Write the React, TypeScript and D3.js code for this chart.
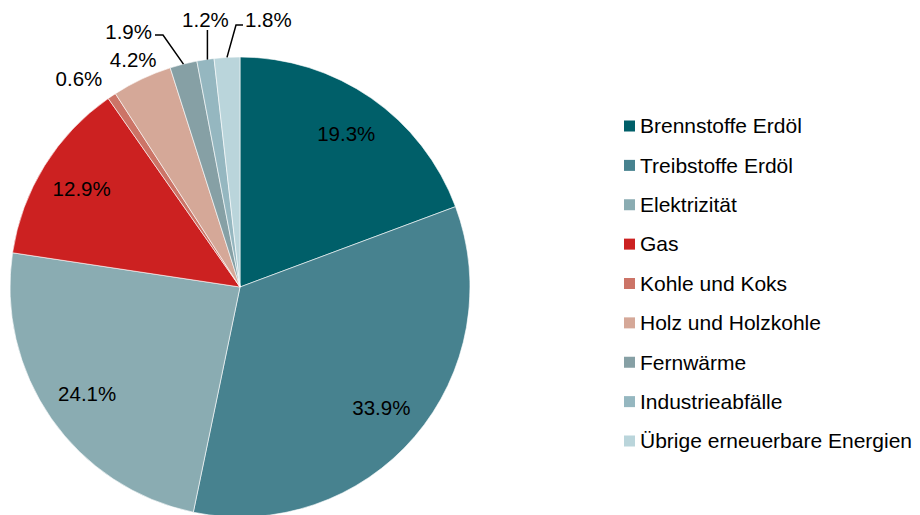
import React from 'react';
import * as d3 from 'd3';

const categories = [
	'Brennstoffe Erdöl',
	'Treibstoffe Erdöl',
	'Elektrizität',
	'Gas',
	'Kohle und Koks',
	'Holz und Holzkohle',
	'Fernwärme',
	'Industrieabfälle',
	'Übrige erneuerbare Energien',
];
const shares = [19.3, 33.9, 24.1, 12.9, 0.6, 4.2, 1.9, 1.2, 1.8];
const colors = ['#005f69', '#47828f', '#8aacb2', '#cc2121', '#cc7467', '#d5a898', '#86a0a5', '#95b7c0', '#bad5db'];

const width = 920;
const height = 515;
const cx = 240;
const cy = 287;
const radius = 230;
const labelSize = 20.5;
const legendSize = 21;

// how the label of each slice is placed
const labelMode = ['in', 'in', 'in', 'in', 'outEnd', 'out', 'leaderLeft', 'leaderUp', 'leaderRight'];

export default function App() {
	const pie = d3
		.pie<number>()
		.sort(null)
		.value((d) => d);
	const arcs = pie(shares);
	const arc = d3.arc<d3.PieArcDatum<number>>().innerRadius(0).outerRadius(radius);

	const polar = (a: number, r: number): [number, number] => [Math.sin(a) * r, -Math.cos(a) * r];

	const legendY = d3.scalePoint<string>().domain(categories).range([126, 441]);

	return (
		<svg width={width} height={height} style={{ position: 'absolute', left: 0, top: 0, background: '#fff' }} fontFamily="'Liberation Sans', Arial, sans-serif">
			<g transform={`translate(${cx},${cy})`}>
				{arcs.map((a, i) => (
					<path key={i} d={arc(a) || ''} fill={colors[i]} stroke="#fff" strokeWidth={0.6} />
				))}
				{arcs.map((a, i) => {
					const mid = (a.startAngle + a.endAngle) / 2;
					const label = `${shares[i].toFixed(1)}%`;
					const mode = labelMode[i];
					if (mode === 'in' || mode === 'out' || mode === 'outEnd') {
						const r = mode === 'in' ? radius * 0.81 : radius * 1.09;
						const [x, y] = polar(mid, r);
						return (
							<text key={i} x={mode === 'outEnd' ? x + 2 : x} y={y} dy="0.35em" fontSize={labelSize} textAnchor={mode === 'outEnd' ? 'end' : 'middle'} fill="#000">
								{label}
							</text>
						);
					}
					const [ex, ey] = polar(mid, radius);
					let pts: [number, number][] = [];
					let tx = 0;
					let ty = 0;
					let anchor = 'middle';
					if (mode === 'leaderLeft') {
						pts = [[ex, ey], [-77, -252], [-85, -252]];
						tx = -88;
						ty = -255;
						anchor = 'end';
					} else if (mode === 'leaderUp') {
						pts = [[ex + 2, ey], [ex + 2, -257]];
						tx = ex;
						ty = -267;
					} else {
						pts = [[ex, ey], [-4, -262], [3, -262]];
						tx = 5;
						ty = -267;
						anchor = 'start';
					}
					return (
						<g key={i}>
							<path d={d3.line()(pts) || ''} fill="none" stroke="#000" strokeWidth={1.5} />
							<text x={tx} y={ty} dy="0.35em" fontSize={labelSize} textAnchor={anchor} fill="#000">
								{label}
							</text>
						</g>
					);
				})}
			</g>
			<g>
				{categories.map((c, i) => (
					<g key={c} transform={`translate(624,${legendY(c)})`}>
						<rect x={0} y={-5.5} width={11} height={11} fill={colors[i]} />
						<text x={16} y={0} dy="0.35em" fontSize={legendSize} fill="#000">
							{c}
						</text>
					</g>
				))}
			</g>
		</svg>
	);
}
